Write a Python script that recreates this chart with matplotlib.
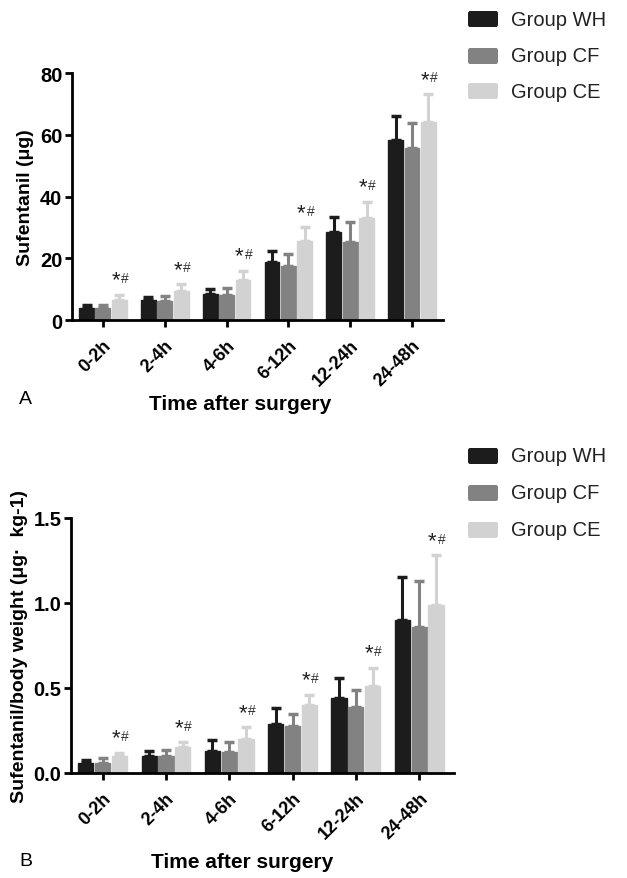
import matplotlib
matplotlib.use("Agg")
import matplotlib.pyplot as plt
import numpy as np
from matplotlib.patches import FancyBboxPatch

plt.rcParams['font.family'] = ['Liberation Sans', 'DejaVu Sans']

categories = ["0-2h", "2-4h", "4-6h", "6-12h", "12-24h", "24-48h"]
groups = ["Group WH", "Group CF", "Group CE"]
colors = ["#1c1c1c", "#828282", "#d2d2d2"]

# Panel A: Sufentanil (ug) mean and SD
a_wh = [3.9, 6.6, 8.3, 18.7, 28.5, 58.3]
a_cf = [3.9, 6.3, 8.0, 17.5, 25.3, 55.7]
a_ce = [6.6, 9.5, 13.0, 25.5, 33.0, 64.2]
a_wh_sd = [0.9, 1.0, 1.7, 3.5, 5.0, 7.7]
a_cf_sd = [0.9, 1.4, 2.4, 4.0, 6.6, 8.0]
a_ce_sd = [1.6, 2.2, 3.0, 4.5, 5.3, 9.0]

# Panel B: Sufentanil/body weight (ug/kg) mean and SD
b_wh = [0.06, 0.10, 0.13, 0.29, 0.44, 0.90]
b_cf = [0.06, 0.10, 0.125, 0.275, 0.39, 0.86]
b_ce = [0.10, 0.15, 0.20, 0.40, 0.51, 0.99]
b_wh_sd = [0.015, 0.03, 0.065, 0.09, 0.12, 0.25]
b_cf_sd = [0.03, 0.035, 0.055, 0.07, 0.10, 0.27]
b_ce_sd = [0.02, 0.03, 0.07, 0.06, 0.11, 0.29]

fig = plt.figure(figsize=(6.27, 8.79), dpi=100)


def panel(rect, means, sds, ylim, yticks, yticklabels, ylabel, xmax, xlabel_xy):
    ax = fig.add_axes(rect)
    x = np.arange(len(categories))
    w = 0.24
    step = 0.265
    for i, (m, s, c) in enumerate(zip(means, sds, colors)):
        xs = x + (i - 1) * step
        ax.bar(xs, m, width=w, color=c, edgecolor=c, linewidth=1, label=groups[i], zorder=2)
        ax.errorbar(xs, m, yerr=[np.zeros(len(m)), s], fmt='none', ecolor=c,
                    elinewidth=2.2, capsize=3.5, capthick=2.5, zorder=1)
        if i == 2:
            for xi, mi, si in zip(xs, m, s):
                ax.annotate("*", (xi, mi + si), xytext=(-2.5, 3), textcoords='offset points',
                            ha='center', va='bottom', fontsize=16, color='#222222')
                ax.annotate("#", (xi, mi + si), xytext=(4, 7), textcoords='offset points',
                            ha='center', va='bottom', fontsize=10, color='#333333')
    ax.set_xlim(-0.5, xmax)
    ax.set_ylim(*ylim)
    ax.set_yticks(yticks)
    ax.set_yticklabels(yticklabels, fontsize=14.5, fontweight='bold')
    ax.set_xticks(x)
    ax.set_xticklabels(categories, rotation=45, ha='right', rotation_mode='anchor',
                       fontsize=13, fontweight='bold')
    for sp in ['top', 'right']:
        ax.spines[sp].set_visible(False)
    for sp in ['left', 'bottom']:
        ax.spines[sp].set_linewidth(2)
    ax.tick_params(axis='both', width=2, length=5, pad=2)
    ax.tick_params(axis='x', pad=7)
    ax.set_ylabel(ylabel, fontsize=14, fontweight='bold', labelpad=4)
    ax.set_xlabel("Time after surgery", fontsize=15, fontweight='bold', va='center')
    ax.xaxis.set_label_coords(*xlabel_xy)
    return ax


axA = panel([0.1148, 0.6348, 0.5917, 0.2810],
            [a_wh, a_cf, a_ce], [a_wh_sd, a_cf_sd, a_ce_sd],
            (0, 80), [0, 20, 40, 60, 80], ["0", "20", "40", "60", "80"],
            "Sufentanil (μg)", 5.5, (0.453, -0.340))
axB = panel([0.1132, 0.1195, 0.6108, 0.2901],
            [b_wh, b_cf, b_ce], [b_wh_sd, b_cf_sd, b_ce_sd],
            (0, 1.5), [0, 0.5, 1.0, 1.5], ["0.0", "0.5", "1.0", "1.5"],
            "Sufentanil/body weight (μg·  kg-1)", 5.55, (0.446, -0.349))

fig.text(19 / 627, 1 - 400 / 879, "A", fontsize=14, ha='left', va='center')
fig.text(19 / 627, 1 - 862 / 879, "B", fontsize=14, ha='left', va='center')

# legends
for ys in ([20, 57, 92], [457, 494, 531]):
    for y, c, g in zip(ys, colors, groups):
        fig.patches.append(FancyBboxPatch((468 / 627, 1 - (y + 8) / 879), 30 / 627, 16 / 879,
                                          boxstyle="round,pad=0,rounding_size=0.003",
                                          transform=fig.transFigure, facecolor=c, edgecolor='none'))
        fig.text(511 / 627, 1 - y / 879, g, fontsize=14.5, ha='left', va='center', color='#222222')

fig.savefig("out.png", dpi=100)
